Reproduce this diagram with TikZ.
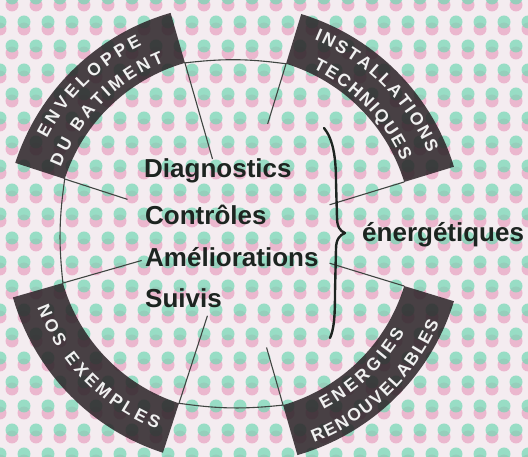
\documentclass[tikz,border=0pt]{standalone}
\usepackage{fontspec}
\setmainfont{Liberation Sans}
\usetikzlibrary{decorations.text}
\definecolor{bgbase}{HTML}{F4ECF0}
\definecolor{dotg}{HTML}{72D8B4}
\definecolor{dotp}{HTML}{E58DB3}
\definecolor{sectorc}{HTML}{2A2226}
\definecolor{inkc}{HTML}{1D2420}
\newcommand\ringfont{\bfseries\fontsize{17.5}{18}\selectfont}
\tikzset{
  dotgreen/.style={fill=dotg, fill opacity=0.7},
  dotpink/.style={fill=dotp, fill opacity=0.55},
  sector/.style={fill=sectorc, fill opacity=0.85},
  thinline/.style={draw=inkc!85, line width=1.1pt},
  ringlabel/.style={decorate, decoration={text along path, text align={fit to path}, text color=white!94!black}},
  ctext/.style={anchor=base west, inner sep=0pt, text=inkc, font=\bfseries\fontsize{26}{30}\selectfont},
  bracestyle/.style={draw=inkc, line width=2.4pt, line cap=round, line join=round}
}
\begin{document}
\begin{tikzpicture}[x=1pt, y=1pt]
\useasboundingbox (0,0) rectangle (528,457);
% background with halftone-like dots
\fill[bgbase] (0,0) rectangle (528,457);
\foreach \j in {0,...,19} {
  \foreach \i in {0,...,22} {
    \pgfmathsetmacro\xx{\i*24 + mod(\j,2)*12}
    \pgfmathsetmacro\yy{\j*24}
    \fill[dotpink] (\xx,\yy-4) circle (6.5);
    \fill[dotgreen] (\xx,\yy+3) circle (6.5);
  }
}
\begin{scope}[shift={(234,223)}]
  % dark sectors
  \fill[sector] (106:230) arc[start angle=106, end angle=162, radius=230] -- (162:178) arc[start angle=162, end angle=106, radius=178] -- cycle;
  \fill[sector] (17:230) arc[start angle=17, end angle=73, radius=230] -- (73:178) arc[start angle=73, end angle=17, radius=178] -- cycle;
  \fill[sector] (196:230) arc[start angle=196, end angle=252, radius=230] -- (252:178) arc[start angle=252, end angle=196, radius=178] -- cycle;
  \fill[sector] (-74:230) arc[start angle=-74, end angle=-17, radius=230] -- (-17:178) arc[start angle=-17, end angle=-74, radius=178] -- cycle;
  % inner corners and spoke ends
  \coordinate (a106) at (106:178); \coordinate (e106) at (106:78);
  \coordinate (a73)  at (73:178);  \coordinate (e73)  at (73:115);
  \coordinate (a17)  at (17:178);  \coordinate (e17)  at (17:100);
  \coordinate (a343) at (-17:178); \coordinate (e343) at (-17:100);
  \coordinate (a286) at (-74:178); \coordinate (e286) at (-74:118);
  \coordinate (a252) at (252:178); \coordinate (e252) at (252:86);
  \coordinate (a196) at (196:178); \coordinate (e196) at (196:96);
  \coordinate (a162) at (162:178); \coordinate (e162) at (162:112);
  % inner arcs between sectors
  \draw[thinline] (a73) to[bend right=7] (a106);
  \draw[thinline] (a162) to[bend right=7] (a196);
  \draw[thinline] (a252) to[bend right=7] (a286);
  % spokes
  \draw[thinline] (a106) -- (e106);
  \draw[thinline] (a73) -- (e73);
  \draw[thinline] (a17) -- (e17);
  \draw[thinline] (a343) -- (e343);
  \draw[thinline] (a286) -- (e286);
  \draw[thinline] (a252) -- (e252);
  \draw[thinline] (a196) -- (e196);
  \draw[thinline] (a162) -- (e162);
  % ring labels
  \path[ringlabel, decoration={text={|\ringfont|ENVELOPPE}}] (153:210) arc[start angle=153, end angle=116, radius=210];
  \path[ringlabel, decoration={text={|\ringfont|DU BATIMENT}}] (159:185.5) arc[start angle=159, end angle=112, radius=185.5];
  \path[ringlabel, decoration={text={|\ringfont|INSTALLATIONS}}] (67.5:210) arc[start angle=67.5, end angle=22.5, radius=210];
  \path[ringlabel, decoration={text={|\ringfont|TECHNIQUES}}] (64.5:183) arc[start angle=64.5, end angle=23.5, radius=183];
  \path[ringlabel, decoration={text={|\ringfont|NOS EXEMPLES}}] (200.5:210) arc[start angle=200.5, end angle=248.5, radius=210];
  \path[ringlabel, decoration={text={|\ringfont|ENERGIES}}] (-63:197) arc[start angle=-63, end angle=-30, radius=197];
  \path[ringlabel, decoration={text={|\ringfont|RENOUVELABLES}}] (-69:223.5) arc[start angle=-69, end angle=-23.4, radius=223.5];
\end{scope}
% central texts
\node[ctext] (diag)  at (144,279) {Diagnostics};
\node[ctext] (contr) at (145,232) {Contrôles};
\node[ctext] (amel)  at (145,190) {Améliorations};
\node[ctext] (suiv)  at (145,149) {Suivis};
\node[ctext] (ener)  at (362,215) {énergétiques};
% brace
\coordinate (btop) at (324,329);
\coordinate (btip) at (345,224);
\coordinate (bbot) at (330,119);
\draw[bracestyle] (btop) .. controls (333,318) and (336,300) .. (336,275) -- (337,240) .. controls (337,230) and (340,226) .. (btip) .. controls (340,222) and (336,218) .. (336,208) -- (335,165) .. controls (335,140) and (334,128) .. (bbot);
\end{tikzpicture}
\end{document}
